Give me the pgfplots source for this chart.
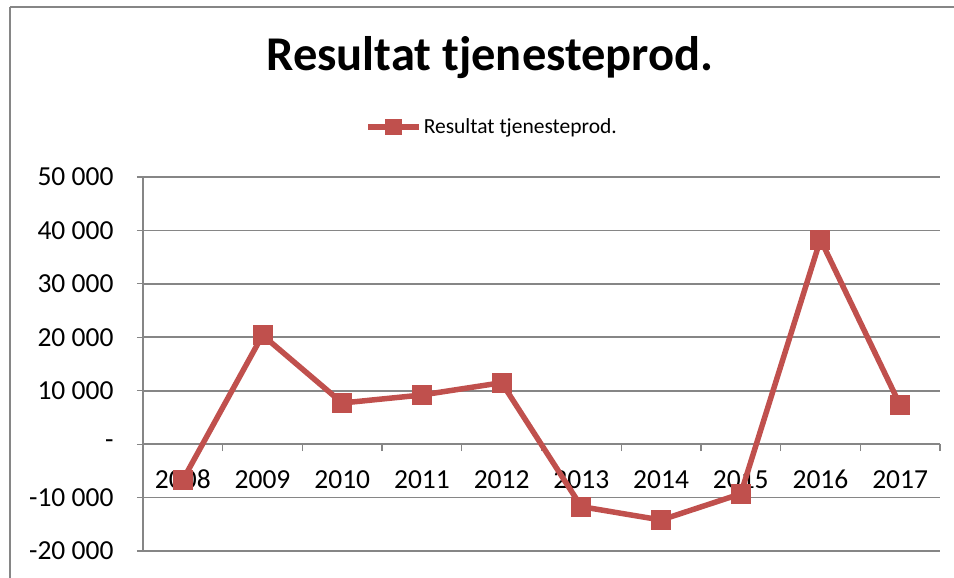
\documentclass[border=0pt]{standalone}
\usepackage{pgfplots}
\pgfplotsset{compat=1.18}
\usetikzlibrary{calc}
\usepackage{fontspec}
\setmainfont{Carlito}
\definecolor{exred}{RGB}{192,80,77}
\definecolor{gridgray}{RGB}{134,134,134}
\begin{document}
\begin{tikzpicture}
\begin{axis}[
  name=ax,
  scale only axis, width=797pt, height=374pt,
  xmin=-0.5, xmax=9.5, ymin=-20000, ymax=50000,
  axis x line=middle, axis y line=left,
  axis line style={gridgray, line width=1.5pt, -},
  xtick={0,...,9},
  xticklabels={2008,2009,2010,2011,2012,2013,2014,2015,2016,2017},
  major x tick style={draw=none},
  minor xtick={-0.5,0.5,...,9.5},
  minor x tick style={gridgray, line width=1.2pt},
  minor tick length=7pt,
  xtick align=outside,
  xticklabel style={anchor=base, yshift=-38pt, font=\fontsize{27.5}{30}\selectfont},
  scaled y ticks=false,
  ytick={-20000,-10000,0,10000,20000,30000,40000,50000},
  yticklabels={-20 000,-10 000,-,10 000,20 000,30 000,40 000,50 000},
  ytick align=outside,
  major y tick style={gridgray, line width=1.2pt},
  major tick length=6pt,
  yticklabel style={font=\fontsize{27.5}{30}\selectfont, xshift=-20pt},
  ymajorgrids,
  major grid style={gridgray, line width=1.6pt},
  /pgf/number format/assume math mode=true,
  legend style={at={(0.438,1.134)}, anchor=center, draw=none, fill=none,
    font=\fontsize{21.5}{24}\selectfont, inner sep=0pt},
  legend image code/.code={
    \draw[#1, line width=5.5pt] (0pt,0pt) -- (51pt,0pt);
    \fill[exred] (20pt,-5.5pt) rectangle (31pt,5.5pt);
  },
  clip=false,
]
\addplot[exred, line width=5.5pt, mark=square*, mark size=9.5pt,
  mark options={solid, fill=exred, draw=exred, line width=0pt}]
  coordinates {
  (0,-6700) (1,20400) (2,7700) (3,9200) (4,11500)
  (5,-11700) (6,-14200) (7,-9300) (8,38300) (9,7300)
  };
\addlegendentry{Resultat tjenesteprod.}
\end{axis}
\coordinate (O) at ($(ax.south west)+(-143pt,-27pt)$);
\pgfresetboundingbox
\useasboundingbox (O) rectangle ++(954pt,578pt);
\begin{scope}
\clip (O) rectangle ++(954pt,578pt);
\draw[gridgray, line width=1.5pt] ($(O)+(10pt,571pt)$) -- ++(1000pt,0pt);
\draw[gridgray, line width=1.5pt] ($(O)+(10pt,571pt)$) -- ++(0pt,-700pt);
\end{scope}
\node[font=\fontsize{48.5}{52}\selectfont\bfseries] at ($(O)+(490pt,520pt)$) {Resultat tjenesteprod.};
\end{tikzpicture}
\end{document}
